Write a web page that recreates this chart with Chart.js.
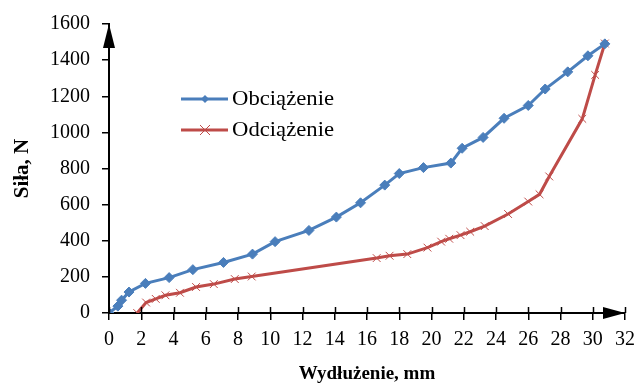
<!DOCTYPE html>
<html><head><meta charset="utf-8">
<script src="https://cdn.jsdelivr.net/npm/chart.js@4.4.0/dist/chart.umd.min.js"></script>
<style>html,body{margin:0;padding:0;background:#fff}#w{width:643px;height:385px}</style>
</head><body><div id="w"><canvas id="c" width="643" height="385"></canvas></div>
<script>
const xTicks = [0,2,4,6,8,10,12,14,16,18,20,22,24,26,28,30,32];
const yTicks = [0,200,400,600,800,1000,1200,1400,1600];
const loadX = [0,0.55,0.78,1.24,2.26,3.73,5.2,7.1,8.9,10.3,12.4,14.1,15.6,17.1,18.0,19.5,21.2,21.9,23.2,24.5,26.0,27.05,28.45,29.7,30.75];
const loadY = [0,38,71,116,164,196,240,280,326,395,457,531,610,708,772,805,830,912,972,1078,1149,1240,1335,1424,1490];
const unloadX = [1.75,2.3,2.9,3.5,4.4,5.4,6.5,7.8,8.85,16.6,17.4,18.5,19.75,20.6,21.1,21.8,22.4,23.3,24.75,26.0,26.7,27.3,29.35,30.15,30.75];
const unloadY = [0,58,78,98,112,144,160,188,202,304,317,326,362,395,411,431,450,481,548,617,657,756,1075,1318,1492];
const seriesNames = ['Obciążenie','Odciążenie'];
const xTitle = 'Wydłużenie, mm';
const yTitle = 'Siła, N';

const BLUE = '#4a7ebb', RED = '#be4b48';
const FONT = '"Liberation Serif", "Times New Roman", serif';
const pts = (xs, ys) => xs.map((x, i) => ({x, y: ys[i]}));

const deco = {
  id: 'deco',
  afterDraw(chart) {
    const ctx = chart.ctx, xs = chart.scales.x, ys = chart.scales.y;
    const y0 = ys.getPixelForValue(0), x0 = xs.getPixelForValue(0);
    ctx.save();
    ctx.strokeStyle = '#000'; ctx.lineWidth = 1.5;
    xTicks.forEach(t => {
      const px = Math.round(xs.getPixelForValue(t)) + 0.5;
      ctx.beginPath(); ctx.moveTo(px, y0); ctx.lineTo(px, y0 - 6); ctx.stroke();
    });
    ctx.fillStyle = '#000';
    const top = ys.getPixelForValue(1600), right = xs.getPixelForValue(32);
    ctx.beginPath(); ctx.moveTo(x0, top); ctx.lineTo(x0 - 6, top + 24); ctx.lineTo(x0 + 6, top + 24); ctx.closePath(); ctx.fill();
    ctx.beginPath(); ctx.moveTo(right, y0); ctx.lineTo(right - 22, y0 - 6); ctx.lineTo(right - 22, y0 + 6); ctx.closePath(); ctx.fill();
    // legend
    const a = chart.chartArea;
    const lx = a.left + 72, ly = a.top + 75;
    chart.data.datasets.forEach((ds, i) => {
      const yy = ly + i * 31;
      ctx.strokeStyle = ds.borderColor; ctx.lineWidth = 3;
      ctx.beginPath(); ctx.moveTo(lx, yy); ctx.lineTo(lx + 47, yy); ctx.stroke();
      const cx = lx + 24;
      if (i === 0) {
        ctx.fillStyle = ds.borderColor;
        ctx.beginPath(); ctx.moveTo(cx, yy - 4); ctx.lineTo(cx + 4, yy); ctx.lineTo(cx, yy + 4); ctx.lineTo(cx - 4, yy); ctx.closePath(); ctx.fill();
      } else {
        ctx.lineWidth = 1;
        ctx.beginPath(); ctx.moveTo(cx - 5, yy - 5); ctx.lineTo(cx + 5, yy + 5); ctx.moveTo(cx + 5, yy - 5); ctx.lineTo(cx - 5, yy + 5); ctx.stroke();
      }
      ctx.fillStyle = '#000'; ctx.font = '21px ' + FONT; ctx.textBaseline = 'middle'; ctx.textAlign = 'left';
      ctx.save(); ctx.translate(lx + 51, yy); ctx.scale(1.08, 1); ctx.fillText(ds.label, 0, 0); ctx.restore();
    });
    ctx.restore();
  }
};

new Chart(document.getElementById('c'), {
  type: 'scatter',
  data: { datasets: [
    { label: seriesNames[0], data: pts(loadX, loadY), showLine: true, borderColor: BLUE, backgroundColor: BLUE,
      borderWidth: 3, pointStyle: 'rectRot', pointRadius: 5, pointBorderWidth: 1, tension: 0 },
    { label: seriesNames[1], data: pts(unloadX, unloadY), showLine: true, borderColor: RED, backgroundColor: RED,
      borderWidth: 3, pointStyle: 'crossRot', pointRadius: 5.5, pointBorderWidth: 1, tension: 0 }
  ]},
  options: {
    responsive: false, animation: false, devicePixelRatio: 1,
    layout: { padding: { top: 20, right: 11, left: 0, bottom: 0 } },
    plugins: { legend: { display: false }, tooltip: { enabled: false } },
    scales: {
      x: {
        type: 'linear', min: 0, max: 32,
        afterBuildTicks: s => { s.ticks = xTicks.map(v => ({value: v})); },
        afterFit: s => { s.height = 72; },
        grid: { display: true, drawOnChartArea: false, drawTicks: true, tickLength: 7, color: '#000', lineWidth: 1.5 },
        border: { display: true, color: '#000', width: 2 },
        ticks: { color: '#000', font: { family: FONT, size: 20 }, padding: 8, maxRotation: 0, autoSkip: false, callback: v => String(v) },
        title: { display: true, text: xTitle, color: '#000', font: { family: FONT, size: 19, weight: 'bold' }, padding: { top: 0, bottom: 0 } }
      },
      y: {
        type: 'linear', min: 0, max: 1600,
        afterBuildTicks: s => { s.ticks = yTicks.map(v => ({value: v})); },
        afterFit: s => { s.width = 109; },
        grid: { display: true, drawOnChartArea: false, drawTicks: true, tickLength: 7, color: '#000', lineWidth: 1.5 },
        border: { display: true, color: '#000', width: 2 },
        ticks: { color: '#000', font: { family: FONT, size: 20 }, padding: 12, autoSkip: false, callback: v => String(v) },
        title: { display: true, text: yTitle, color: '#000', font: { family: FONT, size: 21, weight: 'bold' }, padding: { top: 10, bottom: 4 } }
      }
    }
  },
  plugins: [deco]
});
</script></body></html>
